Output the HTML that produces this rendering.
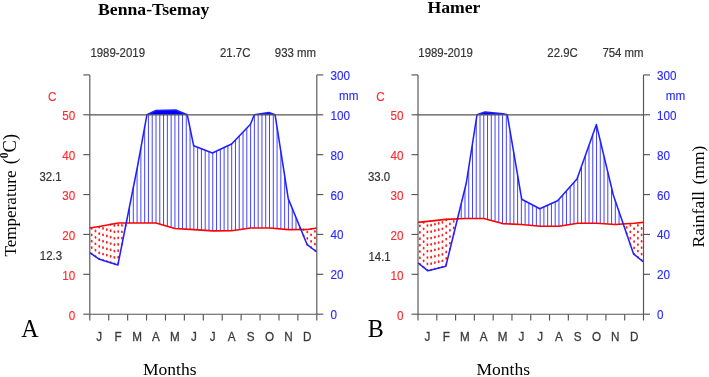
<!DOCTYPE html>
<html><head><meta charset="utf-8">
<style>
html,body{margin:0;padding:0;background:#fff;}
body{width:709px;height:377px;overflow:hidden;}
svg{display:block;will-change:transform;}
text{font-family:"Liberation Sans",sans-serif;}
.s{font-size:13.2px;}
.r{fill:#ff2a2a;stroke:#ff2a2a;stroke-width:0.15px;}
.b{fill:#2a2aff;stroke:#2a2aff;stroke-width:0.15px;}
.k{fill:#333;stroke:#333;stroke-width:0.2px;}
.k2{fill:#3a3a3a;stroke:#3a3a3a;stroke-width:0.3px;}
.serif{font-family:"Liberation Serif",serif;fill:#000;}
</style></head><body>
<svg width="709" height="377" viewBox="0 0 709 377">
<rect width="709" height="377" fill="#fff"/>
<path d="M146.90,114.80 L146.90,114.80 L155.50,110.60 L175.70,110.00 L187.30,114.80 L187.30,114.80 Z" fill="#0000ff" stroke="none"/>
<path d="M254.30,114.80 L254.30,114.80 L268.80,112.50 L275.10,114.80 L275.10,114.80 Z" fill="#0000ff" stroke="none"/>
<g stroke="#4444ff" stroke-width="1" class="wet">
<line x1="129.53" y1="222.99" x2="129.53" y2="206.54"/>
<line x1="133.31" y1="222.99" x2="133.31" y2="187.54"/>
<line x1="137.09" y1="222.99" x2="137.09" y2="168.55"/>
<line x1="140.88" y1="222.99" x2="140.88" y2="147.94"/>
<line x1="144.66" y1="222.99" x2="144.66" y2="127.13"/>
<line x1="148.44" y1="222.99" x2="148.44" y2="114.80"/>
<line x1="152.22" y1="222.99" x2="152.22" y2="114.80"/>
<line x1="156.01" y1="222.99" x2="156.01" y2="114.80"/>
<line x1="159.79" y1="224.09" x2="159.79" y2="114.80"/>
<line x1="163.57" y1="225.18" x2="163.57" y2="114.80"/>
<line x1="167.36" y1="226.27" x2="167.36" y2="114.80"/>
<line x1="171.14" y1="227.37" x2="171.14" y2="114.80"/>
<line x1="174.93" y1="228.46" x2="174.93" y2="114.80"/>
<line x1="178.71" y1="228.70" x2="178.71" y2="114.80"/>
<line x1="182.49" y1="228.94" x2="182.49" y2="114.80"/>
<line x1="186.27" y1="229.18" x2="186.27" y2="114.80"/>
<line x1="190.06" y1="229.42" x2="190.06" y2="128.16"/>
<line x1="193.84" y1="229.65" x2="193.84" y2="145.85"/>
<line x1="197.62" y1="229.89" x2="197.62" y2="147.31"/>
<line x1="201.41" y1="230.13" x2="201.41" y2="148.77"/>
<line x1="205.19" y1="230.37" x2="205.19" y2="150.22"/>
<line x1="208.97" y1="230.61" x2="208.97" y2="151.68"/>
<line x1="212.76" y1="230.85" x2="212.76" y2="152.83"/>
<line x1="216.54" y1="230.82" x2="216.54" y2="151.06"/>
<line x1="220.32" y1="230.79" x2="220.32" y2="149.29"/>
<line x1="224.11" y1="230.76" x2="224.11" y2="147.51"/>
<line x1="227.89" y1="230.72" x2="227.89" y2="145.74"/>
<line x1="231.68" y1="230.69" x2="231.68" y2="143.92"/>
<line x1="235.46" y1="230.16" x2="235.46" y2="139.96"/>
<line x1="239.24" y1="229.64" x2="239.24" y2="135.99"/>
<line x1="243.02" y1="229.11" x2="243.02" y2="132.03"/>
<line x1="246.81" y1="228.59" x2="246.81" y2="128.07"/>
<line x1="250.59" y1="228.06" x2="250.59" y2="123.97"/>
<line x1="254.38" y1="228.06" x2="254.38" y2="114.80"/>
<line x1="258.16" y1="228.06" x2="258.16" y2="114.80"/>
<line x1="261.94" y1="228.06" x2="261.94" y2="114.80"/>
<line x1="265.73" y1="228.06" x2="265.73" y2="114.80"/>
<line x1="269.51" y1="228.06" x2="269.51" y2="114.80"/>
<line x1="273.29" y1="228.38" x2="273.29" y2="114.80"/>
<line x1="277.07" y1="228.70" x2="277.07" y2="127.38"/>
<line x1="280.86" y1="229.02" x2="280.86" y2="151.49"/>
<line x1="284.64" y1="229.34" x2="284.64" y2="175.59"/>
<line x1="288.43" y1="229.65" x2="288.43" y2="199.20"/>
<line x1="292.21" y1="229.61" x2="292.21" y2="208.37"/>
<line x1="295.99" y1="229.57" x2="295.99" y2="217.54"/>
<line x1="299.77" y1="229.53" x2="299.77" y2="226.71"/>
</g>
<g stroke="#ff2424" stroke-width="1.8" stroke-dasharray="0.9 5.5" stroke-dashoffset="0.45" stroke-linecap="round" fill="none">
<line x1="91.69" y1="253.99" x2="91.69" y2="227.66"/>
<line x1="95.47" y1="256.56" x2="95.47" y2="227.06"/>
<line x1="99.26" y1="259.14" x2="99.26" y2="226.46"/>
<line x1="103.04" y1="260.38" x2="103.04" y2="225.77"/>
<line x1="106.83" y1="261.53" x2="106.83" y2="225.08"/>
<line x1="110.61" y1="262.68" x2="110.61" y2="224.38"/>
<line x1="114.39" y1="263.83" x2="114.39" y2="223.69"/>
<line x1="118.17" y1="263.52" x2="118.17" y2="222.99"/>
<line x1="121.96" y1="244.53" x2="121.96" y2="222.99"/>
<line x1="125.74" y1="225.53" x2="125.74" y2="222.99"/>
<line x1="303.56" y1="235.88" x2="303.56" y2="229.49"/>
<line x1="307.34" y1="244.81" x2="307.34" y2="229.45"/>
<line x1="311.12" y1="247.68" x2="311.12" y2="228.86"/>
<line x1="314.91" y1="250.56" x2="314.91" y2="228.26"/>
</g>
<polyline points="89.80,227.96 99.26,226.46 118.17,222.99 137.09,222.99 156.01,222.99 174.93,228.46 193.84,229.65 212.76,230.85 231.68,230.69 250.59,228.06 269.51,228.06 288.43,229.65 307.34,229.45 316.80,227.96" fill="none" stroke="#ff0000" stroke-width="1.6" stroke-linejoin="round"/>
<polyline points="89.80,252.70 99.50,259.30 117.90,264.90 137.50,166.50 146.90,114.80 155.50,110.60 175.70,110.00 187.30,114.80 193.70,145.80 212.40,153.00 231.60,144.00 250.50,124.20 254.30,114.80 268.80,112.50 275.10,114.80 288.30,198.90 307.20,244.70 316.80,252.00" fill="none" stroke="#2020ff" stroke-width="1.55" stroke-linejoin="round"/>
<g stroke="#555" stroke-width="1.15" fill="none">
<line x1="89.80" y1="74.92" x2="89.80" y2="314.20"/>
<line x1="316.80" y1="74.92" x2="316.80" y2="314.20"/>
<line x1="89.80" y1="314.20" x2="316.80" y2="314.20"/>
<line x1="89.80" y1="114.80" x2="316.80" y2="114.80"/>
<line x1="83.30" y1="314.20" x2="89.80" y2="314.20"/>
<line x1="83.30" y1="274.32" x2="89.80" y2="274.32"/>
<line x1="83.30" y1="234.44" x2="89.80" y2="234.44"/>
<line x1="83.30" y1="194.56" x2="89.80" y2="194.56"/>
<line x1="83.30" y1="154.68" x2="89.80" y2="154.68"/>
<line x1="83.30" y1="114.80" x2="89.80" y2="114.80"/>
<line x1="83.30" y1="74.92" x2="89.80" y2="74.92"/>
<line x1="316.80" y1="314.20" x2="323.30" y2="314.20"/>
<line x1="316.80" y1="274.32" x2="323.30" y2="274.32"/>
<line x1="316.80" y1="234.44" x2="323.30" y2="234.44"/>
<line x1="316.80" y1="194.56" x2="323.30" y2="194.56"/>
<line x1="316.80" y1="154.68" x2="323.30" y2="154.68"/>
<line x1="316.80" y1="114.80" x2="323.30" y2="114.80"/>
<line x1="316.80" y1="74.92" x2="323.30" y2="74.92"/>
<line x1="89.80" y1="314.20" x2="89.80" y2="320.50"/>
<line x1="108.72" y1="314.20" x2="108.72" y2="320.50"/>
<line x1="127.63" y1="314.20" x2="127.63" y2="320.50"/>
<line x1="146.55" y1="314.20" x2="146.55" y2="320.50"/>
<line x1="165.47" y1="314.20" x2="165.47" y2="320.50"/>
<line x1="184.38" y1="314.20" x2="184.38" y2="320.50"/>
<line x1="203.30" y1="314.20" x2="203.30" y2="320.50"/>
<line x1="222.22" y1="314.20" x2="222.22" y2="320.50"/>
<line x1="241.13" y1="314.20" x2="241.13" y2="320.50"/>
<line x1="260.05" y1="314.20" x2="260.05" y2="320.50"/>
<line x1="278.97" y1="314.20" x2="278.97" y2="320.50"/>
<line x1="297.88" y1="314.20" x2="297.88" y2="320.50"/>
<line x1="316.80" y1="314.20" x2="316.80" y2="320.50"/>
</g>
<text transform="translate(75.30,319.80) scale(0.885,1)" class="s r" text-anchor="end">0</text>
<text transform="translate(75.30,279.92) scale(0.885,1)" class="s r" text-anchor="end">10</text>
<text transform="translate(75.30,240.04) scale(0.885,1)" class="s r" text-anchor="end">20</text>
<text transform="translate(75.30,200.16) scale(0.885,1)" class="s r" text-anchor="end">30</text>
<text transform="translate(75.30,160.28) scale(0.885,1)" class="s r" text-anchor="end">40</text>
<text transform="translate(75.30,120.40) scale(0.885,1)" class="s r" text-anchor="end">50</text>
<text transform="translate(52.20,100.80) scale(0.885,1)" class="s r" text-anchor="middle">C</text>
<text transform="translate(330.40,319.20) scale(0.885,1)" class="s b">0</text>
<text transform="translate(330.40,279.32) scale(0.885,1)" class="s b">20</text>
<text transform="translate(330.40,239.44) scale(0.885,1)" class="s b">40</text>
<text transform="translate(330.40,199.56) scale(0.885,1)" class="s b">60</text>
<text transform="translate(330.40,159.68) scale(0.885,1)" class="s b">80</text>
<text transform="translate(330.40,119.80) scale(0.885,1)" class="s b">100</text>
<text transform="translate(330.40,79.92) scale(0.885,1)" class="s b">300</text>
<text transform="translate(339.00,100.06) scale(0.885,1)" class="s b">mm</text>
<text transform="translate(99.26,340.60) scale(0.885,1)" class="s k2" text-anchor="middle">J</text>
<text transform="translate(118.17,340.60) scale(0.885,1)" class="s k2" text-anchor="middle">F</text>
<text transform="translate(137.09,340.60) scale(0.885,1)" class="s k2" text-anchor="middle">M</text>
<text transform="translate(156.01,340.60) scale(0.885,1)" class="s k2" text-anchor="middle">A</text>
<text transform="translate(174.93,340.60) scale(0.885,1)" class="s k2" text-anchor="middle">M</text>
<text transform="translate(193.84,340.60) scale(0.885,1)" class="s k2" text-anchor="middle">J</text>
<text transform="translate(212.76,340.60) scale(0.885,1)" class="s k2" text-anchor="middle">J</text>
<text transform="translate(231.68,340.60) scale(0.885,1)" class="s k2" text-anchor="middle">A</text>
<text transform="translate(250.59,340.60) scale(0.885,1)" class="s k2" text-anchor="middle">S</text>
<text transform="translate(269.51,340.60) scale(0.885,1)" class="s k2" text-anchor="middle">O</text>
<text transform="translate(288.43,340.60) scale(0.885,1)" class="s k2" text-anchor="middle">N</text>
<text transform="translate(307.34,340.60) scale(0.885,1)" class="s k2" text-anchor="middle">D</text>
<text transform="translate(90.40,57.10) scale(0.866,1)" class="s k">1989-2019</text>
<text transform="translate(220.00,57.00) scale(0.866,1)" class="s k">21.7C</text>
<text transform="translate(274.80,57.00) scale(0.866,1)" class="s k">933 mm</text>
<text transform="translate(39.40,181.00) scale(0.866,1)" class="s k">32.1</text>
<text transform="translate(39.80,260.00) scale(0.866,1)" class="s k">12.3</text>
<path d="M477.00,114.80 L477.00,114.80 L485.00,112.00 L503.00,113.80 L507.30,114.80 L507.30,114.80 Z" fill="#0000ff" stroke="none"/>
<g stroke="#4444ff" stroke-width="1" class="wet">
<line x1="461.22" y1="218.67" x2="461.22" y2="203.64"/>
<line x1="464.98" y1="218.49" x2="464.98" y2="188.37"/>
<line x1="468.74" y1="218.49" x2="468.74" y2="167.46"/>
<line x1="472.50" y1="218.49" x2="472.50" y2="143.51"/>
<line x1="476.25" y1="218.49" x2="476.25" y2="119.55"/>
<line x1="480.01" y1="218.49" x2="480.01" y2="114.80"/>
<line x1="483.77" y1="218.49" x2="483.77" y2="114.80"/>
<line x1="487.53" y1="219.51" x2="487.53" y2="114.80"/>
<line x1="491.29" y1="220.53" x2="491.29" y2="114.80"/>
<line x1="495.05" y1="221.55" x2="495.05" y2="114.80"/>
<line x1="498.80" y1="222.57" x2="498.80" y2="114.80"/>
<line x1="502.56" y1="223.59" x2="502.56" y2="114.80"/>
<line x1="506.32" y1="223.78" x2="506.32" y2="114.80"/>
<line x1="510.08" y1="223.96" x2="510.08" y2="131.09"/>
<line x1="513.84" y1="224.14" x2="513.84" y2="153.12"/>
<line x1="517.60" y1="224.33" x2="517.60" y2="175.15"/>
<line x1="521.35" y1="224.51" x2="521.35" y2="197.17"/>
<line x1="525.11" y1="224.84" x2="525.11" y2="201.01"/>
<line x1="528.87" y1="225.18" x2="528.87" y2="203.00"/>
<line x1="532.63" y1="225.51" x2="532.63" y2="205.00"/>
<line x1="536.39" y1="225.85" x2="536.39" y2="206.99"/>
<line x1="540.15" y1="226.18" x2="540.15" y2="208.64"/>
<line x1="543.90" y1="226.18" x2="543.90" y2="206.96"/>
<line x1="547.66" y1="226.18" x2="547.66" y2="205.27"/>
<line x1="551.42" y1="226.18" x2="551.42" y2="203.58"/>
<line x1="555.18" y1="226.18" x2="555.18" y2="201.89"/>
<line x1="558.94" y1="226.18" x2="558.94" y2="199.30"/>
<line x1="562.70" y1="225.61" x2="562.70" y2="195.07"/>
<line x1="566.45" y1="225.04" x2="566.45" y2="190.85"/>
<line x1="570.21" y1="224.46" x2="570.21" y2="186.63"/>
<line x1="573.97" y1="223.89" x2="573.97" y2="182.40"/>
<line x1="577.73" y1="223.31" x2="577.73" y2="176.96"/>
<line x1="581.49" y1="223.31" x2="581.49" y2="166.42"/>
<line x1="585.25" y1="223.31" x2="585.25" y2="155.88"/>
<line x1="589.00" y1="223.31" x2="589.00" y2="145.34"/>
<line x1="592.76" y1="223.31" x2="592.76" y2="134.80"/>
<line x1="596.52" y1="223.31" x2="596.52" y2="125.10"/>
<line x1="600.28" y1="223.55" x2="600.28" y2="140.76"/>
<line x1="604.04" y1="223.79" x2="604.04" y2="156.42"/>
<line x1="607.80" y1="224.03" x2="607.80" y2="172.07"/>
<line x1="611.55" y1="224.27" x2="611.55" y2="187.73"/>
<line x1="615.31" y1="224.51" x2="615.31" y2="200.86"/>
<line x1="619.07" y1="224.27" x2="619.07" y2="211.80"/>
<line x1="622.83" y1="224.03" x2="622.83" y2="222.74"/>
</g>
<g stroke="#ff2424" stroke-width="1.8" stroke-dasharray="0.9 5.5" stroke-dashoffset="0.45" stroke-linecap="round" fill="none">
<line x1="419.88" y1="264.30" x2="419.88" y2="222.16"/>
<line x1="423.64" y1="267.31" x2="423.64" y2="221.78"/>
<line x1="427.40" y1="270.32" x2="427.40" y2="221.40"/>
<line x1="431.15" y1="270.00" x2="431.15" y2="221.00"/>
<line x1="434.91" y1="269.05" x2="434.91" y2="220.60"/>
<line x1="438.67" y1="268.10" x2="438.67" y2="220.20"/>
<line x1="442.43" y1="267.15" x2="442.43" y2="219.80"/>
<line x1="446.19" y1="264.73" x2="446.19" y2="219.41"/>
<line x1="449.95" y1="249.45" x2="449.95" y2="219.22"/>
<line x1="453.70" y1="234.18" x2="453.70" y2="219.04"/>
<line x1="457.46" y1="218.91" x2="457.46" y2="218.85"/>
<line x1="626.59" y1="233.68" x2="626.59" y2="223.79"/>
<line x1="630.35" y1="244.62" x2="630.35" y2="223.55"/>
<line x1="634.10" y1="254.30" x2="634.10" y2="223.31"/>
<line x1="637.86" y1="257.38" x2="637.86" y2="222.93"/>
<line x1="641.62" y1="260.46" x2="641.62" y2="222.55"/>
</g>
<polyline points="418.00,222.36 427.40,221.40 446.19,219.41 464.98,218.49 483.77,218.49 502.56,223.59 521.35,224.51 540.15,226.18 558.94,226.18 577.73,223.31 596.52,223.31 615.31,224.51 634.10,223.31 643.50,222.36" fill="none" stroke="#ff0000" stroke-width="1.6" stroke-linejoin="round"/>
<polyline points="418.00,262.80 428.00,270.80 445.80,266.30 466.30,183.00 477.00,114.80 485.00,112.00 503.00,113.80 507.30,114.80 521.70,199.20 539.80,208.80 557.60,200.80 577.00,179.00 596.40,124.60 613.30,195.00 633.50,253.80 643.50,262.00" fill="none" stroke="#2020ff" stroke-width="1.55" stroke-linejoin="round"/>
<g stroke="#555" stroke-width="1.15" fill="none">
<line x1="418.00" y1="74.92" x2="418.00" y2="314.20"/>
<line x1="643.50" y1="74.92" x2="643.50" y2="314.20"/>
<line x1="418.00" y1="314.20" x2="643.50" y2="314.20"/>
<line x1="418.00" y1="114.80" x2="643.50" y2="114.80"/>
<line x1="411.50" y1="314.20" x2="418.00" y2="314.20"/>
<line x1="411.50" y1="274.32" x2="418.00" y2="274.32"/>
<line x1="411.50" y1="234.44" x2="418.00" y2="234.44"/>
<line x1="411.50" y1="194.56" x2="418.00" y2="194.56"/>
<line x1="411.50" y1="154.68" x2="418.00" y2="154.68"/>
<line x1="411.50" y1="114.80" x2="418.00" y2="114.80"/>
<line x1="411.50" y1="74.92" x2="418.00" y2="74.92"/>
<line x1="643.50" y1="314.20" x2="650.00" y2="314.20"/>
<line x1="643.50" y1="274.32" x2="650.00" y2="274.32"/>
<line x1="643.50" y1="234.44" x2="650.00" y2="234.44"/>
<line x1="643.50" y1="194.56" x2="650.00" y2="194.56"/>
<line x1="643.50" y1="154.68" x2="650.00" y2="154.68"/>
<line x1="643.50" y1="114.80" x2="650.00" y2="114.80"/>
<line x1="643.50" y1="74.92" x2="650.00" y2="74.92"/>
<line x1="418.00" y1="314.20" x2="418.00" y2="320.50"/>
<line x1="436.79" y1="314.20" x2="436.79" y2="320.50"/>
<line x1="455.58" y1="314.20" x2="455.58" y2="320.50"/>
<line x1="474.38" y1="314.20" x2="474.38" y2="320.50"/>
<line x1="493.17" y1="314.20" x2="493.17" y2="320.50"/>
<line x1="511.96" y1="314.20" x2="511.96" y2="320.50"/>
<line x1="530.75" y1="314.20" x2="530.75" y2="320.50"/>
<line x1="549.54" y1="314.20" x2="549.54" y2="320.50"/>
<line x1="568.33" y1="314.20" x2="568.33" y2="320.50"/>
<line x1="587.12" y1="314.20" x2="587.12" y2="320.50"/>
<line x1="605.92" y1="314.20" x2="605.92" y2="320.50"/>
<line x1="624.71" y1="314.20" x2="624.71" y2="320.50"/>
<line x1="643.50" y1="314.20" x2="643.50" y2="320.50"/>
</g>
<text transform="translate(403.50,319.80) scale(0.885,1)" class="s r" text-anchor="end">0</text>
<text transform="translate(403.50,279.92) scale(0.885,1)" class="s r" text-anchor="end">10</text>
<text transform="translate(403.50,240.04) scale(0.885,1)" class="s r" text-anchor="end">20</text>
<text transform="translate(403.50,200.16) scale(0.885,1)" class="s r" text-anchor="end">30</text>
<text transform="translate(403.50,160.28) scale(0.885,1)" class="s r" text-anchor="end">40</text>
<text transform="translate(403.50,120.40) scale(0.885,1)" class="s r" text-anchor="end">50</text>
<text transform="translate(380.40,100.80) scale(0.885,1)" class="s r" text-anchor="middle">C</text>
<text transform="translate(657.10,319.20) scale(0.885,1)" class="s b">0</text>
<text transform="translate(657.10,279.32) scale(0.885,1)" class="s b">20</text>
<text transform="translate(657.10,239.44) scale(0.885,1)" class="s b">40</text>
<text transform="translate(657.10,199.56) scale(0.885,1)" class="s b">60</text>
<text transform="translate(657.10,159.68) scale(0.885,1)" class="s b">80</text>
<text transform="translate(657.10,119.80) scale(0.885,1)" class="s b">100</text>
<text transform="translate(657.10,79.92) scale(0.885,1)" class="s b">300</text>
<text transform="translate(665.70,100.06) scale(0.885,1)" class="s b">mm</text>
<text transform="translate(427.40,340.60) scale(0.885,1)" class="s k2" text-anchor="middle">J</text>
<text transform="translate(446.19,340.60) scale(0.885,1)" class="s k2" text-anchor="middle">F</text>
<text transform="translate(464.98,340.60) scale(0.885,1)" class="s k2" text-anchor="middle">M</text>
<text transform="translate(483.77,340.60) scale(0.885,1)" class="s k2" text-anchor="middle">A</text>
<text transform="translate(502.56,340.60) scale(0.885,1)" class="s k2" text-anchor="middle">M</text>
<text transform="translate(521.35,340.60) scale(0.885,1)" class="s k2" text-anchor="middle">J</text>
<text transform="translate(540.15,340.60) scale(0.885,1)" class="s k2" text-anchor="middle">J</text>
<text transform="translate(558.94,340.60) scale(0.885,1)" class="s k2" text-anchor="middle">A</text>
<text transform="translate(577.73,340.60) scale(0.885,1)" class="s k2" text-anchor="middle">S</text>
<text transform="translate(596.52,340.60) scale(0.885,1)" class="s k2" text-anchor="middle">O</text>
<text transform="translate(615.31,340.60) scale(0.885,1)" class="s k2" text-anchor="middle">N</text>
<text transform="translate(634.10,340.60) scale(0.885,1)" class="s k2" text-anchor="middle">D</text>
<text transform="translate(418.30,57.00) scale(0.866,1)" class="s k">1989-2019</text>
<text transform="translate(547.30,57.00) scale(0.866,1)" class="s k">22.9C</text>
<text transform="translate(602.40,57.00) scale(0.866,1)" class="s k">754 mm</text>
<text transform="translate(368.00,180.60) scale(0.866,1)" class="s k">33.0</text>
<text transform="translate(368.50,260.80) scale(0.866,1)" class="s k">14.1</text>
<!-- titles and labels -->
<text transform="translate(98,15.0)" class="serif" font-weight="bold" font-size="17.7px">Benna-Tsemay</text>
<text transform="translate(427.4,13.4)" class="serif" font-weight="bold" font-size="17.7px">Hamer</text>
<text transform="translate(21.3,337) scale(1,1.06)" class="serif" font-size="24px">A</text>
<text transform="translate(367.8,337) scale(1,1.06)" class="serif" font-size="24px">B</text>
<text x="143" y="374.6" class="serif" font-size="17.5px">Months</text>
<text x="476.5" y="374.6" class="serif" font-size="17.5px">Months</text>
<text transform="translate(15.9,256.6) rotate(-90)" class="serif" font-size="17.1px">Temperature<tspan font-size="18.5px" dx="1.5"> (</tspan><tspan font-size="11.5px" font-weight="bold" dy="-7.8">0</tspan><tspan font-size="18.5px" dy="7.8">C)</tspan></text>
<text transform="translate(704.2,247.5) rotate(-90)" class="serif" font-size="17.5px">Rainfall<tspan dx="2.2"> (mm)</tspan></text>
</svg>
</body></html>
